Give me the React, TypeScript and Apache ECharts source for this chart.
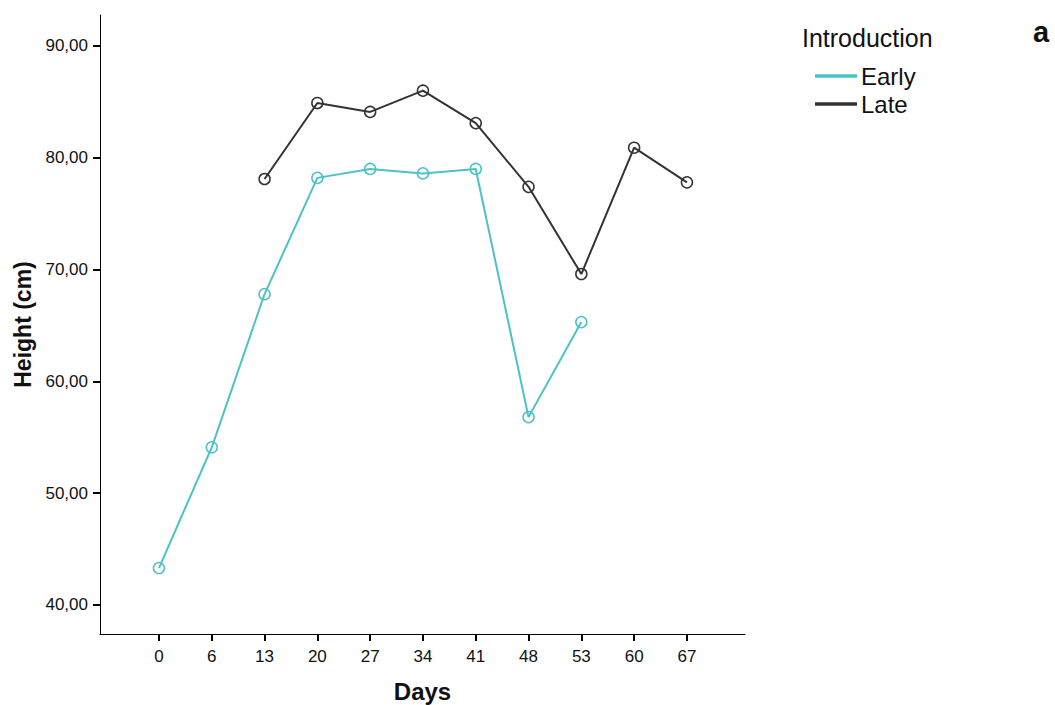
import React, { useEffect, useRef } from "react";
import * as echarts from "echarts";

const days = ["0", "6", "13", "20", "27", "34", "41", "48", "53", "60", "67"];
const early: (number | null)[] = [43.3, 54.1, 67.8, 78.2, 79.0, 78.6, 79.0, 56.8, 65.3, null, null];
const late: (number | null)[] = [null, null, 78.1, 84.9, 84.1, 86.0, 83.1, 77.4, 69.6, 80.9, 77.8];
const yTicks = [40, 50, 60, 70, 80, 90];

const EARLY_COLOR = "#4cc2c4";
const LATE_COLOR = "#333333";
const FONT = "Liberation Sans, Arial, sans-serif";

function toPairs(vals: (number | null)[]) {
  const out: [number, number][] = [];
  vals.forEach((v, i) => {
    if (v !== null) out.push([i, v]);
  });
  return out;
}

export default function App() {
  const ref = useRef<HTMLDivElement>(null);
  useEffect(() => {
    if (!ref.current) return;
    const chart = echarts.init(ref.current, undefined, { renderer: "svg" });
    const symbolStyle = (c: string) => ({
      color: "rgba(0,0,0,0)",
      borderColor: c,
      borderWidth: 1.5,
    });
    chart.setOption({
      animation: false,
      backgroundColor: "#ffffff",
      textStyle: { fontFamily: FONT },
      grid: {
        left: 100,
        right: 310,
        top: 15,
        bottom: 71,
        containLabel: false,
        outerBoundsMode: "none",
      },
      legend: {
        orient: "vertical",
        left: 815,
        top: 64,
        padding: 0,
        itemWidth: 40,
        itemHeight: 1.5,
        itemGap: 4,
        icon: "rect",
        textStyle: { fontSize: 24, color: "#111", fontFamily: FONT },
        data: [
          { name: "Early", itemStyle: { color: EARLY_COLOR } },
          { name: "Late", itemStyle: { color: LATE_COLOR } },
        ],
      },
      xAxis: {
        type: "value",
        min: -1.117,
        max: 11.1,
        name: "Days",
        nameLocation: "middle",
        nameGap: 45,
        nameTextStyle: { fontSize: 24, fontWeight: "bold", color: "#111", fontFamily: FONT },
        axisLine: { show: true, onZero: false, lineStyle: { color: "#000", width: 1 } },
        axisTick: {
          show: true,
          length: 7,
          lineStyle: { color: "#000", width: 2 },
          customValues: days.map((_, i) => i),
        },
        axisLabel: {
          fontSize: 17,
          color: "#111",
          margin: 14,
          customValues: days.map((_, i) => i),
          formatter: (v: number) => days[Math.round(v)] ?? "",
        },
        splitLine: { show: false },
      },
      yAxis: {
        type: "value",
        min: 37.4,
        max: 92.77,
        name: "Height (cm)",
        nameLocation: "middle",
        nameGap: 66,
        nameTextStyle: { fontSize: 23, fontWeight: "bold", color: "#111", fontFamily: FONT },
        axisLine: { show: true, onZero: false, lineStyle: { color: "#000", width: 1 } },
        axisTick: {
          show: true,
          length: 7,
          lineStyle: { color: "#000", width: 2 },
          customValues: yTicks,
        },
        axisLabel: {
          fontSize: 17,
          color: "#111",
          margin: 12,
          customValues: yTicks,
          formatter: (v: number) => v.toFixed(2).replace(".", ","),
        },
        splitLine: { show: false },
      },
      series: [
        {
          name: "Early",
          type: "line",
          data: toPairs(early),
          symbol: "circle",
          symbolSize: 11,
          lineStyle: { color: EARLY_COLOR, width: 2 },
          itemStyle: symbolStyle(EARLY_COLOR),
          z: 3,
        },
        {
          name: "Late",
          type: "line",
          data: toPairs(late),
          symbol: "circle",
          symbolSize: 11,
          lineStyle: { color: LATE_COLOR, width: 2 },
          itemStyle: symbolStyle(LATE_COLOR),
          z: 2,
        },
      ],
      graphic: [
        {
          type: "text",
          left: 802,
          top: 25,
          style: { text: "Introduction", fontSize: 25, fill: "#111", fontFamily: FONT },
        },
        {
          type: "text",
          left: 1033,
          top: 17,
          style: { text: "a", fontSize: 29, fontWeight: "bold", fill: "#111", fontFamily: FONT },
        },
      ],
    });
    return () => chart.dispose();
  }, []);
  return <div ref={ref} style={{ width: 1055, height: 705, position: "absolute", left: 0, top: 0 }} />;
}
